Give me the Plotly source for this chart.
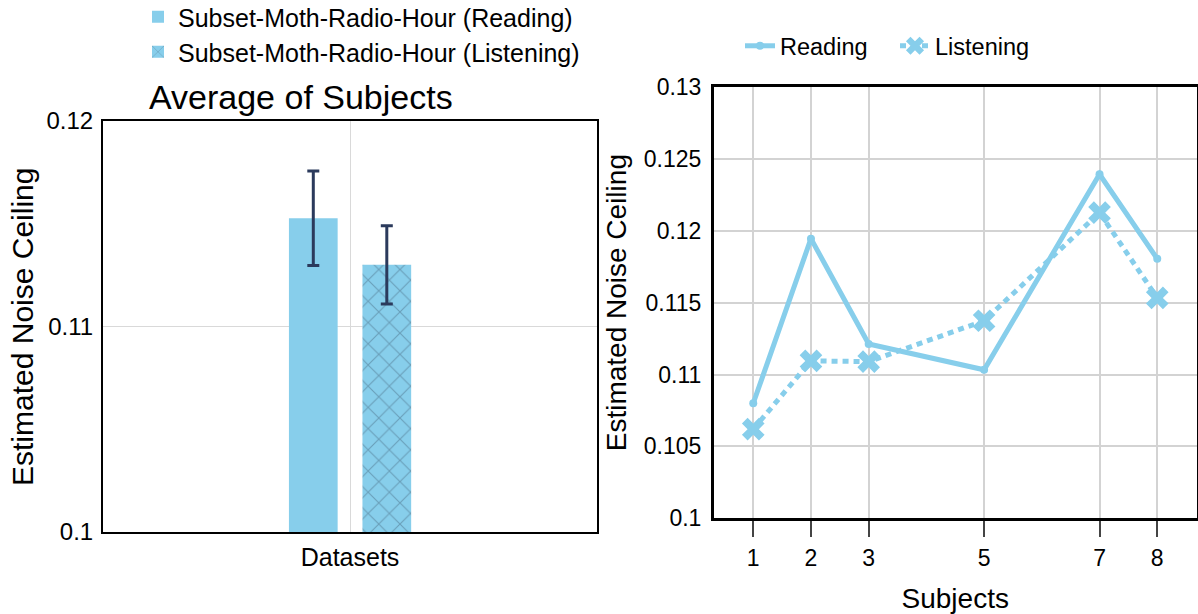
import plotly.graph_objects as go

# ---- data ----
bar_category = ["Datasets"]
bar_names = ["Subset-Moth-Radio-Hour (Reading)", "Subset-Moth-Radio-Hour (Listening)"]
bar_values = [0.11527, 0.11300]
bar_errors = [0.0023, 0.0019]

subjects = [1, 2, 3, 5, 7, 8]
reading = [0.1080, 0.11945, 0.11212, 0.11033, 0.12393, 0.11805]
listening = [0.10620, 0.11095, 0.11090, 0.11374, 0.12126, 0.11533]

left_yticks = [0.1, 0.11, 0.12]
left_yticklabels = ["0.1", "0.11", "0.12"]
right_yticks = [0.1, 0.105, 0.11, 0.115, 0.12, 0.125, 0.13]
right_yticklabels = ["0.1", "0.105", "0.11", "0.115", "0.12", "0.125", "0.13"]

y_title = "Estimated Noise Ceiling"
SKY = "#87CEEB"
NAVY = "#2b3a5c"
FONT = "Liberation Sans, Arial, sans-serif"
W, H = 1198, 614

fig = go.Figure()

# Left panel bars
fig.add_trace(go.Bar(
    x=bar_category, y=[bar_values[0]], name=bar_names[0],
    marker=dict(color=SKY, line=dict(width=0)),
    offset=-0.1236, width=0.0986,
    error_y=dict(type="data", array=[bar_errors[0]], color=NAVY, thickness=3, width=6),
    xaxis="x", yaxis="y", legend="legend", showlegend=True,
))
fig.add_trace(go.Bar(
    x=bar_category, y=[bar_values[1]], name=bar_names[1],
    marker=dict(color=SKY, line=dict(width=0),
                pattern=dict(shape="x", fgcolor="rgba(50,70,90,0.7)", size=15, solidity=0.14)),
    offset=0.0252, width=0.0986,
    error_y=dict(type="data", array=[bar_errors[1]], color=NAVY, thickness=3, width=6),
    xaxis="x", yaxis="y", legend="legend2", showlegend=True,
))

# Right panel lines
fig.add_trace(go.Scatter(
    x=subjects, y=reading, name="Reading", mode="lines+markers",
    line=dict(color=SKY, width=5),
    marker=dict(symbol="circle", size=8, color=SKY),
    xaxis="x2", yaxis="y2", legend="legend3",
))
fig.add_trace(go.Scatter(
    x=subjects, y=listening, name="Listening", mode="lines+markers",
    line=dict(color=SKY, width=5, dash="6px,5px"),
    marker=dict(symbol="x", size=20, color=SKY, line=dict(width=0)),
    xaxis="x2", yaxis="y2", legend="legend3",
))

lx0, lx1 = 103 / W, 597 / W
ly0, ly1 = 1 - 532 / H, 1 - 121 / H
rx0, rx1 = 714 / W, 1196.5 / W
ry0, ry1 = 1 - 518.3 / H, 1 - 87 / H

leg_common = dict(xref="container", yref="container", xanchor="left", yanchor="middle",
                  bgcolor="rgba(0,0,0,0)", borderwidth=0, visible=True)

fig.update_layout(
    width=W, height=H, autosize=False,
    margin=dict(l=0, r=0, t=0, b=0, autoexpand=False),
    paper_bgcolor="white", plot_bgcolor="white",
    font=dict(family=FONT, color="black"),
    barmode="group",
    showlegend=True,
    xaxis=dict(domain=[lx0, lx1], anchor="y", type="category", range=[-0.5, 0.5],
               automargin=False,
               showgrid=True, gridcolor="#d9d9d9", gridwidth=1,
               showline=True, linecolor="black", linewidth=2, mirror=True,
               ticks="", tickfont=dict(size=25), ticklabelstandoff=2),
    yaxis=dict(domain=[ly0, ly1], anchor="x", range=[0.1, 0.12], automargin=False,
               tickvals=left_yticks, ticktext=left_yticklabels,
               showgrid=True, gridcolor="#d9d9d9", gridwidth=1, zeroline=False,
               showline=True, linecolor="black", linewidth=2, mirror=True,
               ticks="", tickfont=dict(size=24), ticklabelstandoff=3),
    xaxis2=dict(domain=[rx0, rx1], anchor="y2", range=[0.32, 8.68], automargin=False,
                tickvals=subjects, ticktext=[str(s) for s in subjects],
                showgrid=True, gridcolor="#d3d3d3", gridwidth=2, zeroline=False,
                showline=True, linecolor="black", linewidth=3, mirror=True,
                ticks="outside", ticklen=16, tickwidth=1.5, tickcolor="#444",
                tickfont=dict(size=23), ticklabelstandoff=1,
                title=dict(text="Subjects", font=dict(size=28), standoff=19)),
    yaxis2=dict(domain=[ry0, ry1], anchor="x2", range=[0.1, 0.13], automargin=False,
                tickvals=right_yticks, ticktext=right_yticklabels,
                showgrid=True, gridcolor="#d3d3d3", gridwidth=2, zeroline=False,
                showline=True, linecolor="black", linewidth=3, mirror=True,
                ticks="", tickfont=dict(size=23), ticklabelstandoff=5,
                title=dict(text=y_title, font=dict(size=28), standoff=10)),
    legend=dict(x=138 / W, y=1 - 17 / H, font=dict(size=25), **leg_common),
    legend2=dict(x=138 / W, y=1 - 52 / H, font=dict(size=25), **leg_common),
    legend3=dict(x=740 / W, y=1 - 46 / H, orientation="h", entrywidth=110,
                 entrywidthmode="pixels", font=dict(size=23.5), **leg_common),
    annotations=[
        dict(text="Average of Subjects", x=301 / W, y=1 - 97 / H,
             xref="paper", yref="paper", xanchor="center", yanchor="middle",
             showarrow=False, font=dict(size=34, color="black")),
        dict(text=y_title, x=22 / W, y=1 - 327 / H, textangle=-90,
             xref="paper", yref="paper", xanchor="center", yanchor="middle",
             showarrow=False, font=dict(size=30, color="black")),
    ],
)

fig.write_html("out.html")
